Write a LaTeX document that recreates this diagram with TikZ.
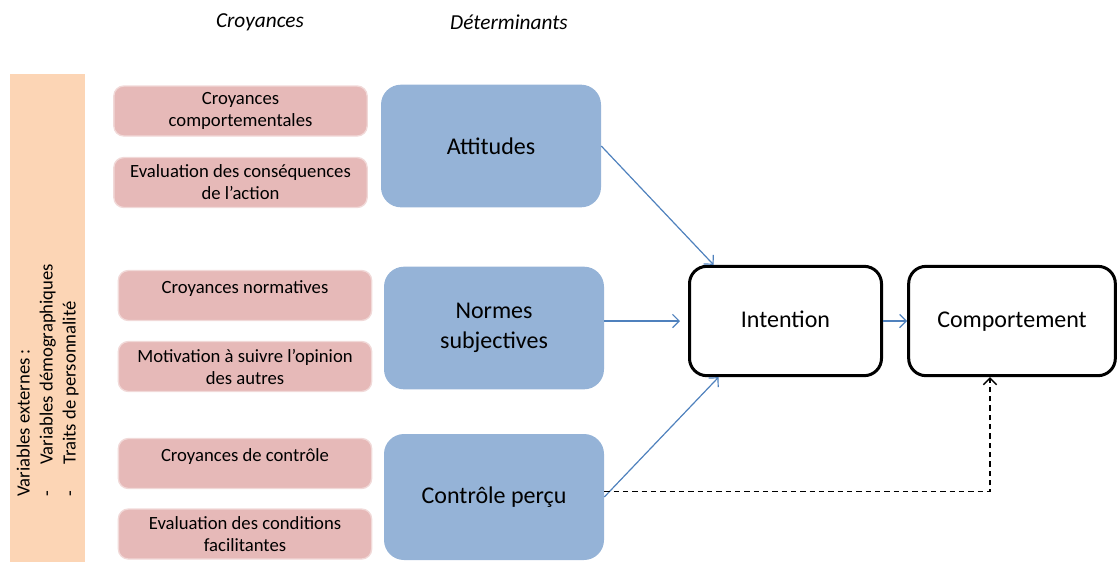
\documentclass[tikz,border=0pt]{standalone}
\usepackage{fontspec}
\setmainfont{Carlito}
\usepackage{tikz}
\usepackage{xcolor}
\usetikzlibrary{arrows.meta}
\definecolor{rose}{HTML}{E6B9B8}
\definecolor{bleu}{HTML}{95B3D7}
\definecolor{peche}{HTML}{FCD5B5}
\definecolor{fleche}{HTML}{4F81BD}

\begin{document}
\begin{tikzpicture}[x=0.75pt,y=-0.75pt,
    croy/.style={shape=rectangle, rounded corners=7.5pt, fill=rose, draw=rose!55!white, line width=1pt, minimum width=190pt, minimum height=37.5pt, align=center, inner sep=2pt, font=\fontsize{14}{16.5}\selectfont},
    haut/.style={text depth=13pt},
    det/.style={shape=rectangle, rounded corners=15pt, fill=bleu, minimum width=165pt, minimum height=92pt, align=center, font=\fontsize{18}{22.5}\selectfont},
    res/.style={shape=rectangle, draw, line width=2.25pt, rounded corners=13pt, minimum height=82pt, text height=12.5pt, text depth=3.5pt, font=\fontsize{18}{22}\selectfont},
    titre/.style={font=\fontsize{16}{19}\selectfont\itshape},
    fl/.style={->, draw=fleche, line width=0.9pt},
    >={Straight Barb[length=5pt,width=10pt]}]
    \useasboundingbox (0,0) rectangle (1119,562);

    \node[titre] (tcroy) at (260,22) {Croyances};
    \node[titre] (tdet) at (509,22) {Déterminants};

    \fill[peche] (10,74) rectangle (85,562);
    \node[rotate=90, anchor=north west, inner sep=0pt, align=left, font=\fontsize{14}{17.25}\selectfont] (ext) at (16.5,497)
      {Variables externes :\\ \makebox[24pt][l]{-}Variables démographiques\\ \makebox[24pt][l]{-}Traits de personnalité};

    \node[croy] (c1) at (240.5,111) {Croyances\\comportementales};
    \node[croy] (c2) at (240.5,182.5) {Evaluation des conséquences\\de l’action};
    \node[croy,haut] (c3) at (245,295.5) {Croyances normatives};
    \node[croy] (c4) at (245,366.5) {Motivation à suivre l’opinion\\des autres};
    \node[croy,haut] (c5) at (245,463.5) {Croyances de contrôle};
    \node[croy] (c6) at (245,534) {Evaluation des conditions\\facilitantes};

    \node[det] (att) at (491,146) {Attitudes};
    \node[det] (norm) at (494,328) {Normes\\subjectives};
    \node[det, minimum height=94.5pt] (ctrl) at (494,497) {Contrôle perçu};

    \node[res, minimum width=144pt] (int) at (785.5,321) {Intention};
    \node[res, minimum width=155pt] (comp) at (1012,321) {Comportement};

    \draw[fl] (att.east) -- (int.142);
    \draw[fl, shorten >=6pt] (norm.east |- int.west) -- (int.west);
    \draw[fl] (ctrl.east) -- (int.220);
    \draw[fl] (int.east) -- (comp.west);
    \draw[->, line width=1pt, dash pattern=on 4pt off 3pt] ([yshift=4pt]ctrl.east) -| ([xshift=-16.5pt]comp.south);
  \end{tikzpicture}
\end{document}
